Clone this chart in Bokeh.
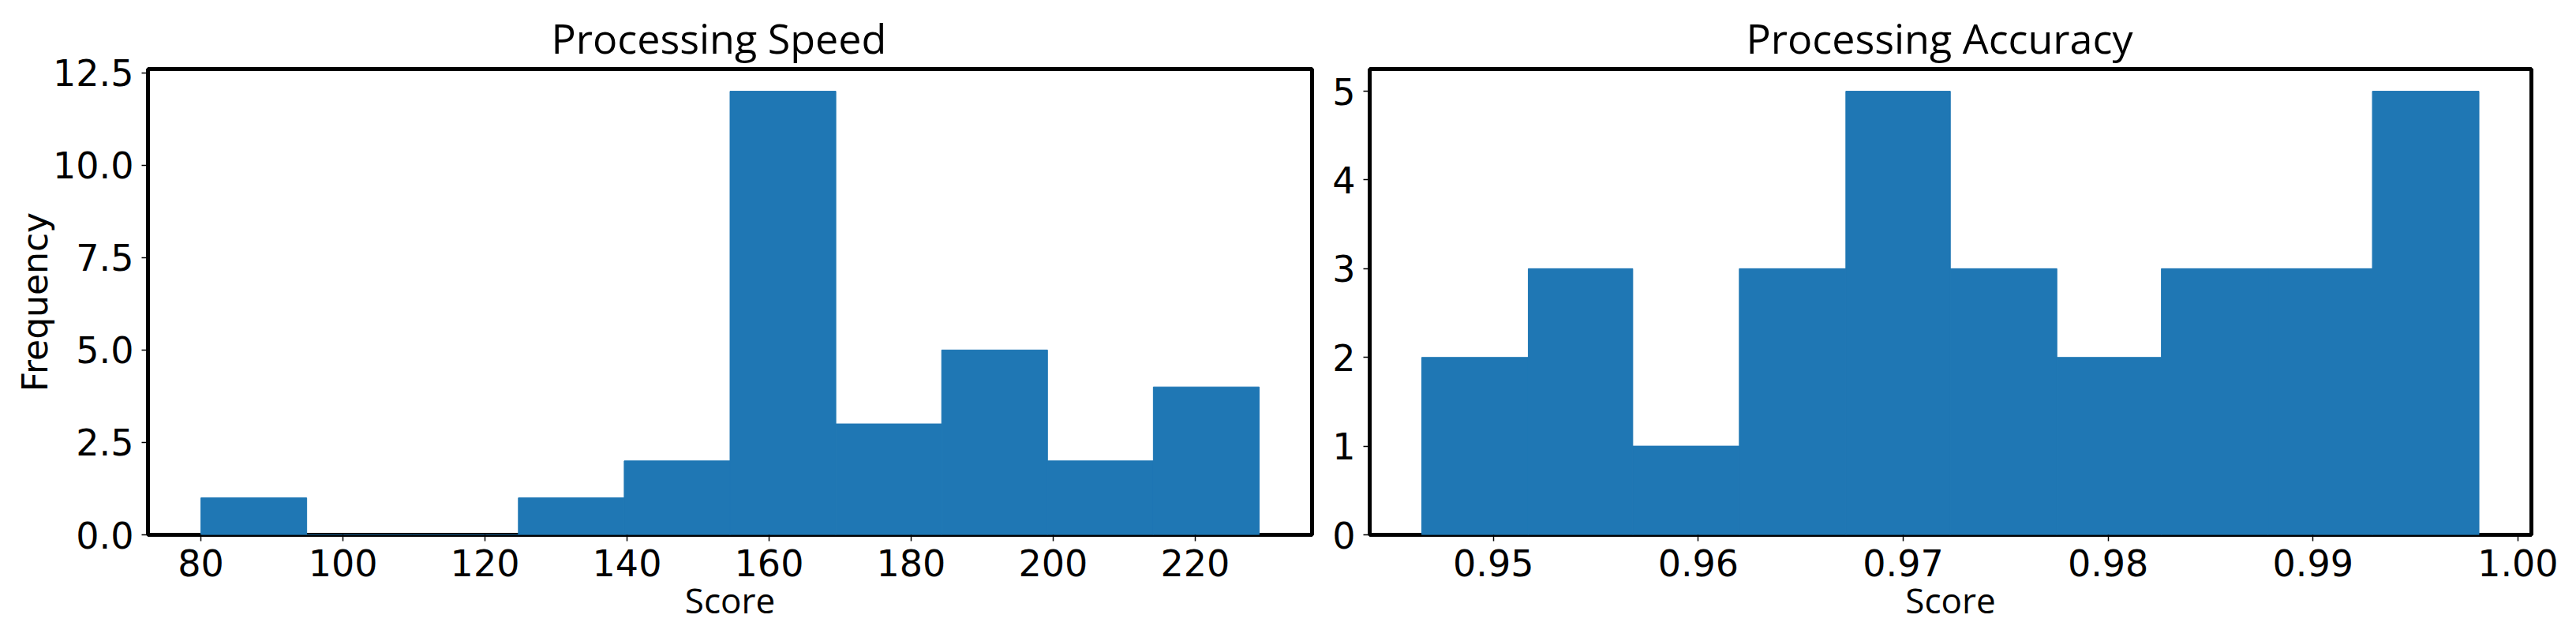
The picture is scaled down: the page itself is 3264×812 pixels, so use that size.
from bokeh.plotting import figure
from bokeh.layouts import row
from bokeh.models import Range1d, FixedTicker, PrintfTickFormatter
from bokeh.embed import file_html
from bokeh.resources import INLINE

# ---- data ----
speed_edges = [80.0, 94.9, 109.8, 124.7, 139.6, 154.5, 169.4, 184.3, 199.2, 214.1, 229.0]
speed_counts = [1, 0, 0, 1, 2, 12, 3, 5, 2, 4]
speed_xticks = [80, 100, 120, 140, 160, 180, 200, 220]
speed_yticks = [0.0, 2.5, 5.0, 7.5, 10.0, 12.5]

acc_edges = [0.9465, 0.9517, 0.9568, 0.9620, 0.9672, 0.9723, 0.9775, 0.9826, 0.9878, 0.9929, 0.9981]
acc_counts = [2, 3, 1, 3, 5, 3, 2, 3, 3, 5]
acc_xticks = [0.95, 0.96, 0.97, 0.98, 0.99, 1.00]
acc_yticks = [0, 1, 2, 3, 4, 5]

titles = ["Processing Speed", "Processing Accuracy"]
x_label = "Score"
y_label = "Frequency"

BAR = "#1f77b4"
TICK_FONT = "DejaVu Sans"
TEXT_FONT = "Open Sans"


def make_fig(title, title_off, edges, counts, xr, yr, xticks, yticks, xfmt, yfmt,
             width, mbl, mbr, ylab):
    p = figure(width=width, height=796, output_backend="svg", toolbar_location=None,
               x_range=Range1d(*xr), y_range=Range1d(*yr),
               min_border_left=mbl, min_border_right=mbr,
               min_border_top=87, min_border_bottom=119)
    p.title.text = title
    p.title.text_font = TEXT_FONT
    p.title.text_font_size = "52px"
    p.title.text_font_style = "normal"
    p.title.text_color = "black"
    p.title.align = "left"
    p.title.offset = title_off
    p.title.standoff = 10
    p.quad(left=edges[:-1], right=edges[1:], bottom=0, top=counts,
           fill_color=BAR, line_color=BAR, line_width=1)
    p.grid.visible = False
    p.background_fill_color = "white"
    p.border_fill_color = "white"
    p.outline_line_color = "black"
    p.outline_line_width = 5
    p.outline_line_alpha = 1
    for ax in (p.xaxis[0], p.yaxis[0]):
        ax.axis_line_color = None
        ax.major_tick_line_color = "black"
        ax.major_tick_line_width = 1.5
        ax.major_tick_out = 8
        ax.major_tick_in = 0
        ax.minor_tick_line_color = None
        ax.major_label_text_font = TICK_FONT
        ax.major_label_text_font_size = "46px"
        ax.major_label_text_color = "black"
        ax.major_label_standoff = 10
        ax.axis_label_text_font_style = "normal"
        ax.axis_label_text_color = "black"
    p.xaxis.ticker = FixedTicker(ticks=xticks)
    p.yaxis.ticker = FixedTicker(ticks=yticks)
    p.xaxis.formatter = PrintfTickFormatter(format=xfmt)
    p.yaxis.formatter = PrintfTickFormatter(format=yfmt)
    p.xaxis.axis_label = x_label
    p.xaxis.axis_label_text_font = TEXT_FONT
    p.xaxis.axis_label_text_font_size = "44px"
    p.xaxis.axis_label_standoff = -3
    if ylab:
        p.yaxis.axis_label = ylab
        p.yaxis.axis_label_text_font = TICK_FONT
        p.yaxis.axis_label_text_font_size = "44px"
        p.yaxis.axis_label_standoff = -6
    return p


p1 = make_fig(titles[0], 511, speed_edges, speed_counts, (72.55, 236.45), (0, 12.6),
              speed_xticks, speed_yticks, "%d", "%.1f", 1678, 187, 16, y_label)
p2 = make_fig(titles[1], 477, acc_edges, acc_counts, (0.94396, 1.00066), (0, 5.25),
              acc_xticks, acc_yticks, "%.2f", "%d", 1570, 57, 41, None)

layout = row(p1, p2)
open("out.html", "w").write(file_html(layout, INLINE))
